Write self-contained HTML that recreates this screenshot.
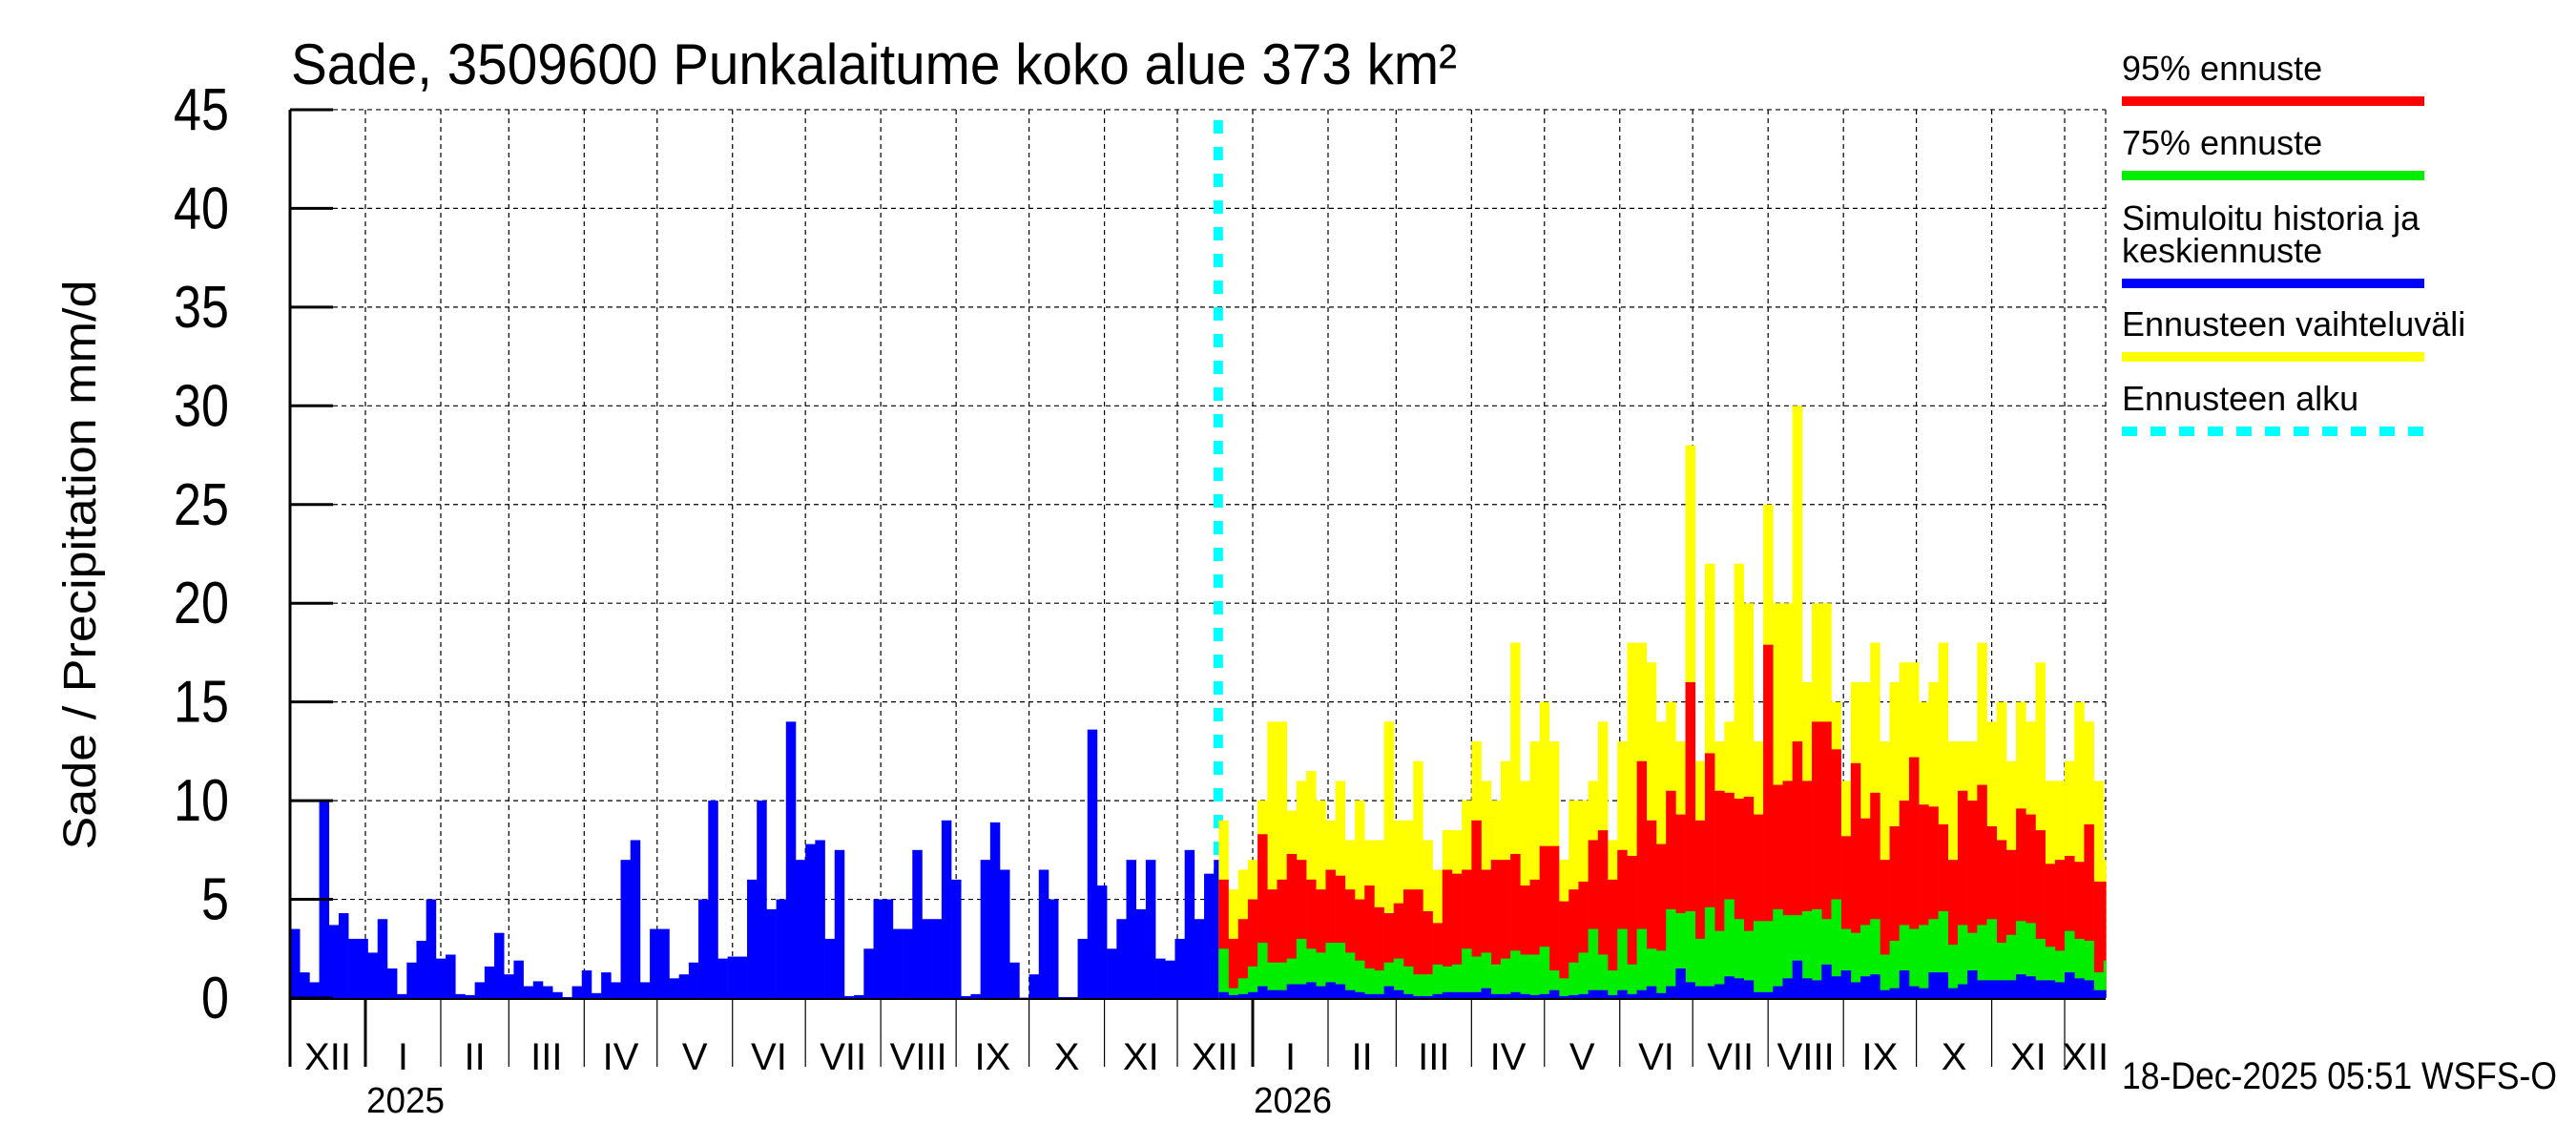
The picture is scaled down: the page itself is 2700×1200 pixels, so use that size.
<!DOCTYPE html>
<html><head><meta charset="utf-8"><style>
html,body{margin:0;padding:0;background:#fff;}
svg{display:block;font-family:"Liberation Sans",sans-serif;}
</style></head><body>
<svg id="chart" width="2700" height="1200" viewBox="0 0 2700 1200" xmlns="http://www.w3.org/2000/svg">
<rect x="0" y="0" width="2700" height="1200" fill="#fff"/>
<text x="305" y="88" font-size="60" textLength="1222" lengthAdjust="spacingAndGlyphs">Sade, 3509600 Punkalaitume koko alue 373 km²</text>
<text transform="translate(100,592) rotate(-90)" text-anchor="middle" font-size="48" textLength="597" lengthAdjust="spacingAndGlyphs">Sade / Precipitation   mm/d</text>
<g id="grid"></g>
<g id="cyanG"></g>
<g id="bars"></g>
<g id="axes"></g>
<g id="legend">
<text x="2224" y="84" font-size="36">95% ennuste</text>
<rect x="2224" y="101" width="317" height="10" fill="#ff0000"/>
<text x="2224" y="162" font-size="36">75% ennuste</text>
<rect x="2224" y="179" width="317" height="10" fill="#00ee00"/>
<text x="2224" y="241" font-size="36">Simuloitu historia ja</text>
<text x="2224" y="275" font-size="36">keskiennuste</text>
<rect x="2224" y="292" width="317" height="10" fill="#0000ff"/>
<text x="2224" y="352" font-size="36">Ennusteen vaihteluväli</text>
<rect x="2224" y="369" width="317" height="10" fill="#ffff00"/>
<text x="2224" y="430" font-size="36">Ennusteen alku</text>
<line x1="2224" y1="452" x2="2541" y2="452" stroke="#00ffff" stroke-width="10" stroke-dasharray="16,14"/>
</g>
<text x="2224" y="1141" font-size="40" textLength="456" lengthAdjust="spacingAndGlyphs">18-Dec-2025 05:51 WSFS-O</text>
</svg>
<script>
const yTicks = [0,5,10,15,20,25,30,35,40,45];
const monthStarts = [0,31,62,90,121,151,182,212,243,274,304,335,365,396,427,455,486,516,547,577,608,639,669,700,730,747];
const monthLabels = ["XII","I","II","III","IV","V","VI","VII","VIII","IX","X","XI","XII","I","II","III","IV","V","VI","VII","VIII","IX","X","XI","XII"];
const yearLabels = ["2025","2026"];
const yearDays = [31,396];
const forecastStartDay = 382;
const binDays = 4;
const history = [3.5,1.3,0.8,10,3.7,4.3,3,3,2.3,4,1.5,0.2,1.8,2.9,5,2,2.2,0.2,0.15,0.8,1.6,3.3,1.2,1.9,0.6,0.85,0.6,0.3,0.05,0.6,1.4,0.25,1.3,0.8,7,8,0.8,3.5,3.5,1,1.2,1.8,5,10,2,2.1,2.1,6,10,4.5,5,14,7,7.8,8,3,7.5,0.1,0.15,2.5,5,5,3.5,3.5,7.5,4,4,9,6,0.1,0.2,7,8.9,6.5,1.8,0.02,1.2,6.5,5,0.05,0.05,3,13.6,5.7,2.5,4,7,4.5,7,2,1.9,3,7.5,4,6.3,7];
const fcRange = [9,5.5,6.5,7,10,14,14,9.5,11,11.5,10,9,11,8,10,8,8,14,9,9,12,8,6.5,8.5,8.5,10,13,11,10,12,18,11,13,15,13,7,10,10,11,14,8,13,18,18,17,14,15,13,28,12,22,13,14,22,20,13,25,20,20,30,16,20,20,15,11,16,16,18,13,16,17,17,15,16,18,13,13,13,18,14,15,12,15,14,17,11,11,12,15,14,11,7];
const fc95 = [6,3,4,5,8.3,5.5,6,7.3,7,6,5.5,6.5,6.2,5.5,5,5.7,4.6,4.3,4.8,5.5,5.5,4.4,3.8,6.5,6.3,6.5,9,6.5,7,7,7.3,5.7,6,7.7,7.7,4.9,5.5,5.9,8,8.5,6,7.5,7.2,12,9,7.8,10.5,9.3,16,9,12.4,10.5,10.4,10.1,10.2,9.3,17.9,10.8,11,13,11,14,14,12.6,8.2,11.9,9.1,10.4,7,8.7,10,12.2,9.8,9.7,8.8,7,10.5,10,10.8,8.7,8,7.5,9.6,9.3,8.5,6.8,7,7.2,6.9,8.8,5.9,5.9];
const fc75 = [2.5,0.5,1,1.6,2.8,1.8,1.8,2,3,2.5,2.3,2.8,2.8,2.3,1.9,1.5,1.4,1.8,2,1.6,1.2,1.2,1.7,1.6,1.7,2.5,2.1,2.3,1.7,2,2.4,2.2,2.2,2.6,1.4,1,1.8,2.3,3.5,2.2,1.4,3.5,1.7,3.5,2.5,2.4,4.5,4.3,4.4,3,4.6,3.4,5,4,3.4,3.9,3.9,4.5,4.2,4.2,4.4,4.5,4,5,3.5,3.3,3.7,4,2.2,2.9,3.7,3.5,3.7,4,4.4,2.7,3.7,3.3,3.7,4,2.8,3.2,3.9,3.8,3,2.6,2.4,3.4,3,2.9,1.3,1.9];
const fcMean = [0.3,0.15,0.2,0.3,0.6,0.4,0.4,0.7,0.7,0.8,0.6,0.8,0.7,0.4,0.3,0.2,0.2,0.6,0.4,0.2,0.1,0.1,0.2,0.3,0.3,0.3,0.3,0.5,0.2,0.2,0.3,0.2,0.15,0.2,0.4,0.1,0.15,0.2,0.4,0.4,0.15,0.4,0.2,0.4,0.6,0.25,0.6,1.5,0.8,0.6,0.6,0.7,1.1,1,0.9,0.3,0.3,0.6,1,1.9,1,0.9,1.7,1.1,1.4,0.8,1.1,1.2,0.4,0.5,1.4,0.6,0.5,1.3,1.3,0.5,0.7,1.4,0.9,0.9,0.9,0.9,1.2,1.1,0.9,0.9,0.8,1.3,1,0.9,0.4,0.4];

const NS = "http://www.w3.org/2000/svg";
const X0 = 304, PXD = 2.548, Y0 = 1046, PXMM = 20.69, XEND = 2207;
function xScale(d){ return X0 + d*PXD; }
function yScale(v){ return Y0 - v*PXMM; }
function mk(tag, attrs, parent){ const e=document.createElementNS(NS,tag); for(const k in attrs) e.setAttribute(k,attrs[k]); parent.appendChild(e); return e; }
const grid=document.getElementById('grid'), bars=document.getElementById('bars'), axes=document.getElementById('axes'), cy=document.getElementById('cyanG');

yTicks.forEach(function(t){
  if(t===0) return;
  const l=mk('line',{x1:X0,x2:XEND,y1:yScale(t),y2:yScale(t),stroke:'#000','stroke-width':1.2,'stroke-dasharray':'5,4'},grid);
  
  
});
monthStarts.forEach(function(d,i){
  if(i===0||d>=747) return;
  const l=mk('line',{x1:xScale(d),x2:xScale(d),y1:yScale(45),y2:Y0,stroke:'#000','stroke-width':1.2,'stroke-dasharray':'5,4'},grid);
  
  
});
const rl=mk('line',{x1:XEND,x2:XEND,y1:yScale(45),y2:Y0,stroke:'#000','stroke-width':1.2,'stroke-dasharray':'5,4'},grid);



const cl=mk('line',{x1:xScale(forecastStartDay)-0.5,x2:xScale(forecastStartDay)-0.5,y1:126,y2:Y0,stroke:'#00ffff','stroke-width':10,'stroke-dasharray':'14,14'},cy);



function drawBar(d0,d1,v,color,name){
  const x=xScale(d0), w=xScale(Math.min(d1,747))-x;
  if(w<=0||v<=0) return;
  const r=mk('rect',{x:x,y:yScale(v),width:w+0.3,height:v*PXMM,fill:color},bars);
  
  
}
history.forEach(function(v,k){ drawBar(k*binDays, Math.min((k+1)*binDays, forecastStartDay), v, '#0000ff', 'history-bar'); });
const fSeries=[[fcRange,'#ffff00','range-bar'],[fc95,'#ff0000','p95-bar'],[fc75,'#00ee00','p75-bar'],[fcMean,'#0000ff','mean-bar']];
fSeries.forEach(function(s){
  s[0].forEach(function(v,j){ drawBar(forecastStartDay+j*binDays, forecastStartDay+(j+1)*binDays, v, s[1], s[2]); });
});

const la=mk('line',{x1:X0,x2:X0,y1:yScale(45),y2:1118,stroke:'#000','stroke-width':3},axes);


const ba=mk('line',{x1:X0,x2:XEND,y1:1047,y2:1047,stroke:'#000','stroke-width':2},axes);


yTicks.forEach(function(t){
  const tk=mk('line',{x1:X0,x2:X0+45,y1:yScale(t),y2:yScale(t),stroke:'#000','stroke-width':3},axes);
  
  
  const s=String(t);
  const tx=mk('text',{x:240,y:yScale(t)+21,'text-anchor':'end','font-size':62,textLength:s.length*29,lengthAdjust:'spacingAndGlyphs'},axes);
  tx.textContent=s;
  
  
});
monthStarts.forEach(function(d,i){
  if(i>0 && d<747){
    const yr = yearDays.indexOf(d)>=0;
    const ml=mk('line',{x1:xScale(d),x2:xScale(d),y1:1047,y2:1118,stroke:'#000','stroke-width':yr?3:1.2},axes);
    
    
  }
  if(i<monthLabels.length){
    const cx=(xScale(d)+xScale(monthStarts[i+1]))/2;
    const t=mk('text',{x:cx,y:1121,'text-anchor':'middle','font-size':40},axes);
    t.textContent=monthLabels[i];
    
    
  }
});
yearLabels.forEach(function(y,i){
  const t=mk('text',{x:xScale(yearDays[i])+42,y:1166,'text-anchor':'middle','font-size':38,textLength:82,lengthAdjust:'spacingAndGlyphs'},axes);
  t.textContent=y;
  
  
});
</script>
</body></html>
